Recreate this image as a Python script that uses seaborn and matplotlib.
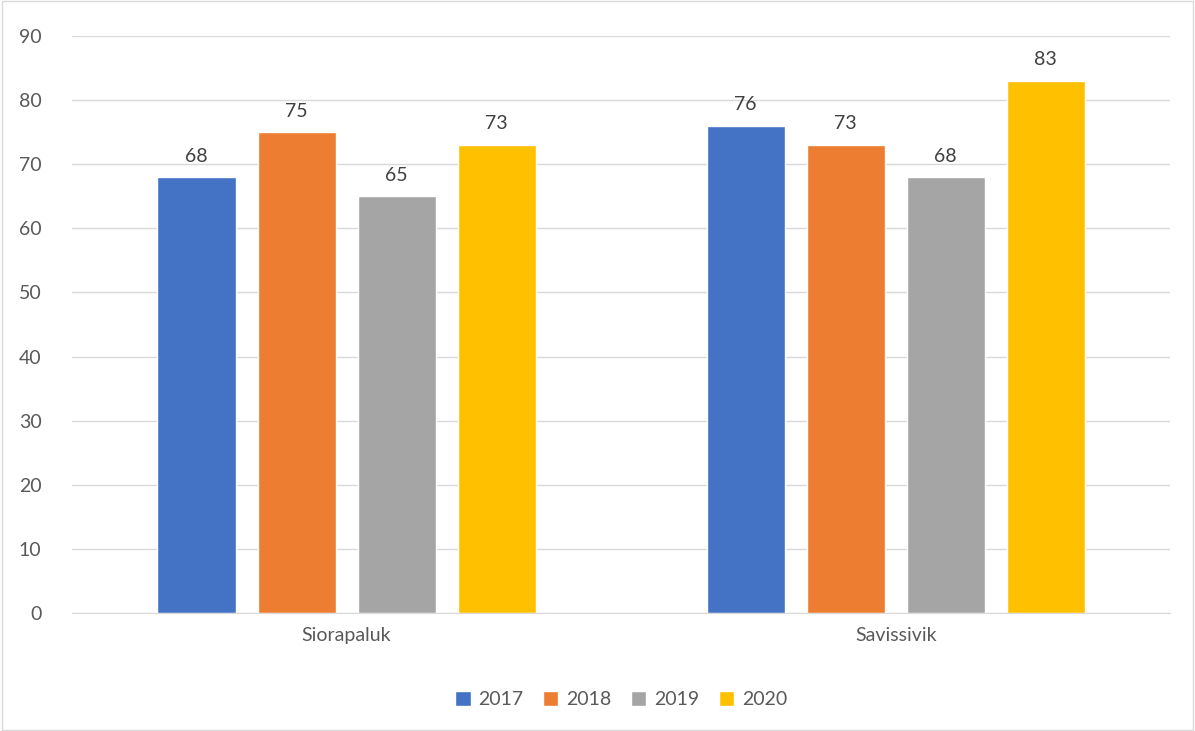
import pandas as pd
import matplotlib.pyplot as plt
import seaborn as sns

# data
places = ['Siorapaluk', 'Savissivik']
years = ['2017', '2018', '2019', '2020']
siorapaluk = [68, 75, 65, 73]
savissivik = [76, 73, 68, 83]
colors = ['#4472C4', '#ED7D31', '#A5A5A5', '#FFC000']

df = pd.DataFrame({
    'place': [places[0]] * 4 + [places[1]] * 4,
    'year': years * 2,
    'value': siorapaluk + savissivik,
})

sns.set_style('white')
plt.rcParams['font.family'] = ['Lato', 'DejaVu Sans']

fig = plt.figure(figsize=(11.95, 7.31), dpi=100)
ax = fig.add_axes([0.0603, 0.1614, 0.919, 0.7894])

sns.barplot(data=df, x='place', y='value', hue='year', order=places, hue_order=years,
            palette=colors, width=0.729, gap=0.22, saturation=1, ax=ax)

for cont in ax.containers:
    ax.bar_label(cont, padding=9, fontsize=14, color='#404040')

ax.set_ylim(0, 90)
ax.set_xlim(-0.5, 1.5)
ax.set_yticks(range(0, 91, 10))
ax.yaxis.grid(True, color='#D9D9D9', linewidth=1)
ax.set_axisbelow(True)
for s in ['top', 'right', 'left']:
    ax.spines[s].set_visible(False)
ax.spines['bottom'].set_color('#D9D9D9')
ax.tick_params(axis='both', length=0, labelsize=14, colors='#595959', pad=10)
ax.tick_params(axis='y', pad=22)
ax.set_xlabel('')
ax.set_ylabel('')

ax.legend(loc='upper center', bbox_to_anchor=(0.5, -0.105), ncol=4, frameon=False,
          fontsize=14, handlelength=0.8, handleheight=0.8, columnspacing=1.0,
          handletextpad=0.4, labelcolor='#595959')

# chart border
fig.patches.append(plt.Rectangle((0.002, 0.002), 0.996, 0.996, transform=fig.transFigure,
                                 fill=False, edgecolor='#D9D9D9', linewidth=1))

fig.savefig('out.png', dpi=100)
